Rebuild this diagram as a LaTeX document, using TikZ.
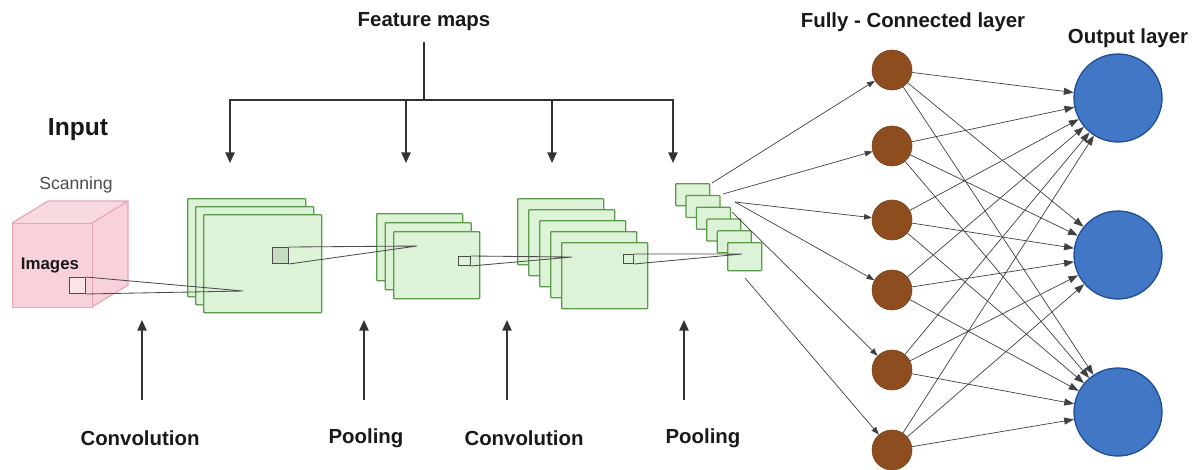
\documentclass[tikz,border=0pt]{standalone}
\usepackage{fontspec}
\setmainfont{Liberation Sans}
\usepackage{xcolor}
\usetikzlibrary{arrows.meta,positioning,calc}

\definecolor{mapfill}{HTML}{DDF3D7}
\definecolor{mapdraw}{HTML}{5B9A4A}
\definecolor{cubefill}{HTML}{F8D2DA}
\definecolor{cubedraw}{HTML}{EAA3B1}
\definecolor{fcfill}{HTML}{8E4D1E}
\definecolor{outfill}{HTML}{4277C5}
\definecolor{outdraw}{HTML}{1D4C94}

\begin{document}
\begin{tikzpicture}[x=0.025cm, y=-0.025cm,
  lbl/.style={font=\bfseries\fontsize{14.5}{16}\selectfont, text=black!90},
  fmap/.style={draw=mapdraw, fill=mapfill, line width=0.9pt, rounded corners=0.6pt,
               anchor=north west, inner sep=0pt},
  patch/.style={draw=black!70, line width=0.7pt, anchor=north west, inner sep=0pt},
  rf/.style={draw=black!70, line width=0.6pt},
  fcn/.style={circle, draw=fcfill!85!black, fill=fcfill, minimum size=1.0cm, inner sep=0pt},
  outn/.style={circle, draw=outdraw, fill=outfill, line width=0.9pt, minimum size=2.2cm, inner sep=0pt},
  arr/.style={-{Triangle[length=7.5pt,width=6.5pt]}, line width=1.2pt, draw=black!80},
  wire/.style={-{Triangle[length=7pt,width=5pt]}, line width=0.5pt, draw=black!75}
]
\useasboundingbox (0,0) rectangle (1194,469);

% Input image
\node[lbl, font=\bfseries\fontsize{17.5}{19}\selectfont] (inp) at (78,130) {Input};
\node[font=\fontsize{12.5}{14}\selectfont, text=black!70] (scan) at (76,185) {Scanning};
\fill[cubefill!85] (12,223) -- (48,201) -- (128,201) -- (92,223) -- cycle;
\fill[cubefill] (92,223) -- (128,201) -- (128,285) -- (92,307) -- cycle;
\draw[cubedraw, line width=0.8pt] (12,223) -- (48,201) -- (128,201) -- (128,285) -- (92,307)
  (92,223) -- (128,201);
\node[draw=cubedraw, fill=cubefill, line width=0.8pt, minimum width=2.0cm, minimum height=2.1cm,
      anchor=north west, inner sep=0pt] (img) at (12,223) {};
\node[lbl, font=\bfseries\fontsize{12}{14}\selectfont] (imgl) at (50,265) {Images};
\node[patch, fill=cubefill!60, minimum width=0.4cm, minimum height=0.4cm] (s0) at (69,277) {};

% Feature map stacks
\foreach \i in {0,1,2}
  \node[fmap, minimum width=2.95cm, minimum height=2.45cm] (cA\i) at ({187+8*\i},{198+8*\i}) {};
\foreach \i in {0,1,2}
  \node[fmap, minimum width=2.15cm, minimum height=1.675cm] (pA\i) at ({376+8.5*\i},{213+9*\i}) {};
\foreach \i in {0,...,4}
  \node[fmap, minimum width=2.15cm, minimum height=1.65cm] (cB\i) at ({517+11*\i},{198+11*\i}) {};
\foreach \i in {0,...,4}
  \node[fmap, minimum width=0.85cm, minimum height=0.55cm] (pB\i) at ({675+10.4*\i},{183+11.8*\i}) {};
\node[fmap, minimum width=0.85cm, minimum height=0.7cm] (pB5) at (727,242) {};

\node[patch, fill=mapdraw!35, minimum width=0.4cm, minimum height=0.4cm] (s1) at (272,247) {};
\node[patch, fill=mapfill, minimum width=0.3cm, minimum height=0.225cm] (s2) at (458,256) {};
\node[patch, fill=mapfill, minimum width=0.25cm, minimum height=0.225cm] (s3) at (623,254) {};

% Receptive fields
\coordinate (r1) at (243,291);
\coordinate (r2) at (417,246);
\coordinate (r3) at (572,257);
\coordinate (r4) at (742,254);
\draw[rf] (s0.north east) -- (r1) -- (s0.south east);
\draw[rf] (s1.north east) -- (r2) -- (s1.south east);
\draw[rf] (s2.north east) -- (r3) -- (s2.south east);
\draw[rf] (s3.north east) -- (r4) -- (s3.south east);

% Feature maps bus
\node[lbl] (fm) at (424,22) {Feature maps};
\coordinate (fmtop) at (424,42);
\coordinate (fmbus) at (424,100);
\draw[line width=1.2pt, black!80] (fmtop) -- (fmbus);
\foreach \x [count=\k] in {230,406,552,673} {
  \coordinate (t\k) at (\x,163);
  \draw[arr] (fmbus) -| (t\k);
}

% Operations
\foreach \x/\lx/\txt [count=\k] in {142/140/Convolution, 364/366/Pooling, 507/524/Convolution, 684/703/Pooling} {
  \node[lbl] (op\k) at (\lx,438) {\txt};
  \coordinate (ob\k) at (\x,400);
  \coordinate (ot\k) at (\x,320);
  \draw[arr] (ob\k) -- (ot\k);
}

% Fully connected and output layers
\node[lbl] (fcl) at (913,22) {Fully - Connected layer};
\node[lbl] (outl) at (1128,38) {Output layer};
\foreach \y [count=\k] in {70,146,220,290,370,450}
  \node[fcn] (fc\k) at (892,\y) {};
\foreach \y [count=\k] in {98,255,412}
  \node[outn] (out\k) at (1118,\y) {};

\coordinate (o1) at (712,183);
\coordinate (o2) at (723,194);
\coordinate (o3) at (735,202);
\coordinate (o5) at (732,212);
\coordinate (o6) at (745,278);
\foreach \s/\t in {o1/fc1, o2/fc2, o3/fc3, o3/fc4, o5/fc5, o6/fc6}
  \draw[wire, -{Triangle[length=5.5pt,width=4pt]}] (\s) -- (\t);

\foreach \i in {1,...,6}
  \foreach \j in {1,2,3}
    \draw[wire] (fc\i) -- (out\j);
\end{tikzpicture}
\end{document}
